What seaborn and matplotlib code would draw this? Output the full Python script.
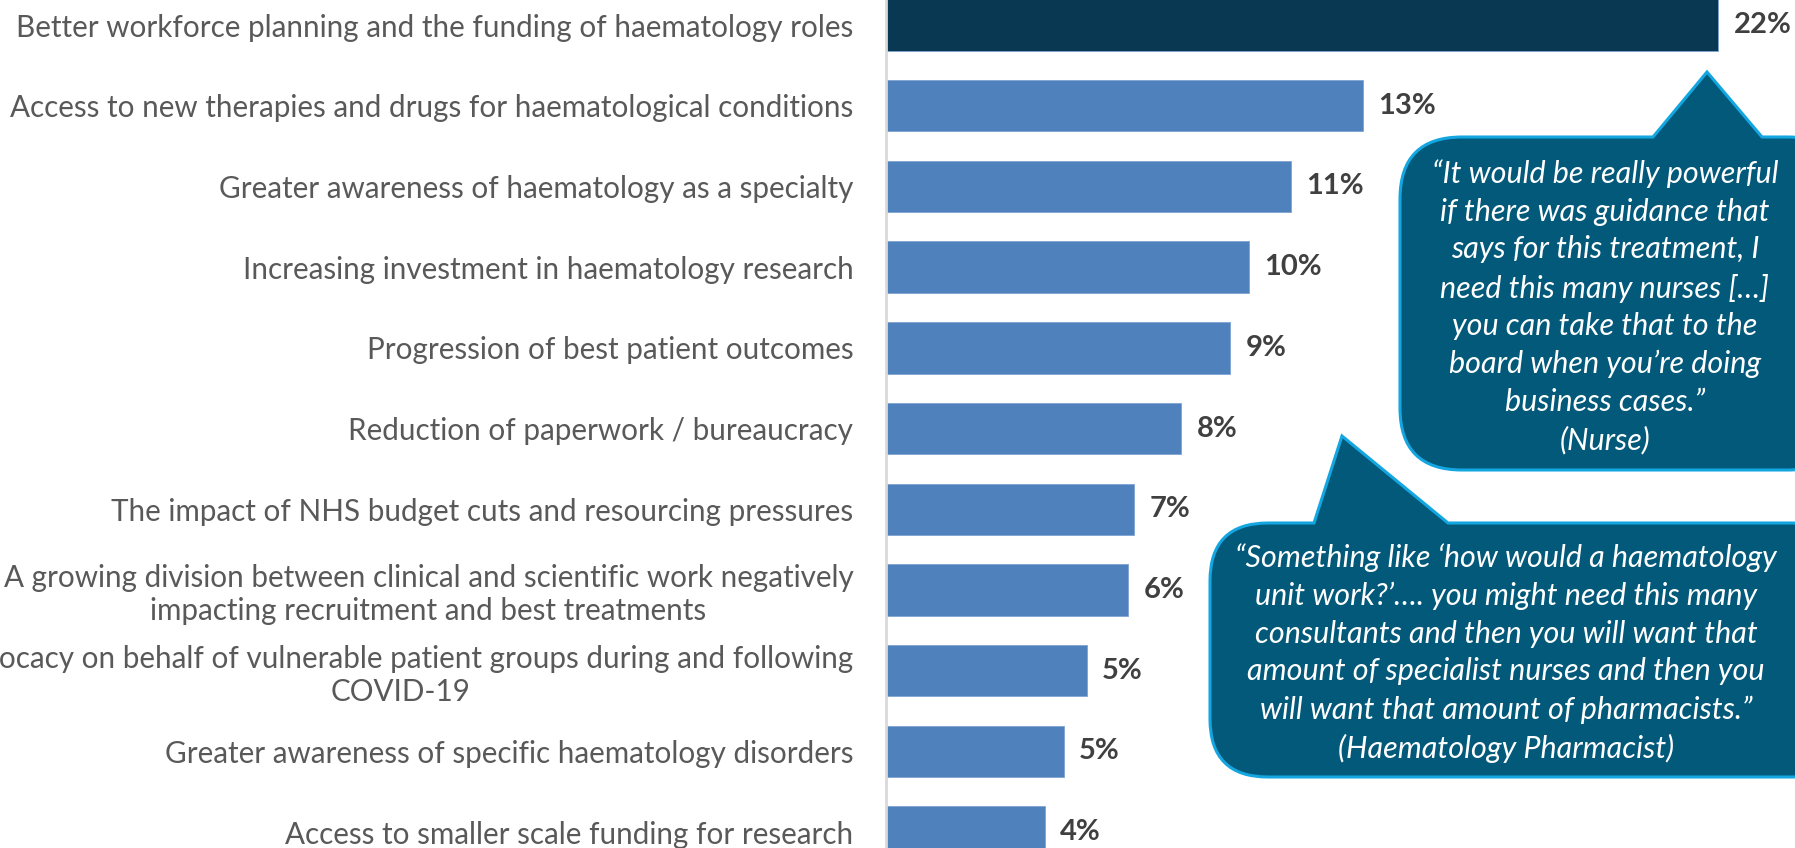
import matplotlib
matplotlib.use("Agg")
import matplotlib.pyplot as plt
from matplotlib.path import Path
from matplotlib.patches import PathPatch
import seaborn as sns
import pandas as pd

# Survey responses: share of respondents naming each priority (%)
categories = [
    "Better workforce planning and the funding of haematology roles",
    "Access to new therapies and drugs for haematological conditions",
    "Greater awareness of haematology as a specialty",
    "Increasing investment in haematology research",
    "Progression of best patient outcomes",
    "Reduction of paperwork / bureaucracy",
    "The impact of NHS budget cuts and resourcing pressures",
    "A growing division between clinical and scientific work negatively\nimpacting recruitment and best treatments",
    "Advocacy on behalf of vulnerable patient groups during and following\nCOVID-19",
    "Greater awareness of specific haematology disorders",
    "Access to smaller scale funding for research",
]
shares = [22.0, 12.6, 10.7, 9.6, 9.1, 7.8, 6.55, 6.4, 5.3, 4.7, 4.2]

nurse_quote = ("“It would be really powerful\nif there was guidance that\n"
               "says for this treatment, I\nneed this many nurses […]\n"
               "you can take that to the\nboard when you’re doing\n"
               "business cases.”\n(Nurse)")
pharmacist_quote = ("“Something like ‘how would a haematology\n"
                    "unit work?’…. you might need this many\n"
                    "consultants and then you will want that\n"
                    "amount of specialist nurses and then you\n"
                    "will want that amount of pharmacists.”\n"
                    "(Haematology Pharmacist)")

HIGHLIGHT = "#083852"
BAR = "#4f81bd"
CALLOUT_FILL = "#02597a"
CALLOUT_EDGE = "#13a6e0"

sns.set_theme(style="white")
plt.rcParams["font.family"] = ["Lato", "DejaVu Sans"]

df = pd.DataFrame({"category": categories, "share": shares})
palette = {c: (HIGHLIGHT if i == 0 else BAR) for i, c in enumerate(categories)}

W, H = 1795, 848
fig = plt.figure(figsize=(W / 100, H / 100), dpi=100)
ax = fig.add_axes([886 / W, 0, 1 - 886 / W, 1])

sns.barplot(data=df, x="share", y="category", hue="category", palette=palette,
            legend=False, orient="h", width=0.637, ax=ax,
            edgecolor="#7fa3d3", linewidth=0.6, saturation=1)

for container, v in zip(ax.containers, shares):
    ax.bar_label(container, labels=[f"{v:.0f}%"], padding=11,
                 fontsize=21, fontweight="bold", color="#404040")

ax.set_xlim(0, (W - 886) / 37.84)
ax.set_ylim(10.198, -0.31)
ax.set_xlabel("")
ax.set_ylabel("")
ax.set_xticks([])
ax.tick_params(axis="y", length=0, pad=23.5, labelsize=21.3, labelcolor="#595959")
for lbl in ax.get_yticklabels():
    lbl.set_multialignment("center")
    lbl.set_linespacing(1.22)
for side in ("top", "right", "bottom"):
    ax.spines[side].set_visible(False)
ax.spines["left"].set_color("#d9d9d9")
ax.spines["left"].set_linewidth(2)

# Overlay in pixel units for the speech-bubble quotes
ov = fig.add_axes([0, 0, 1, 1], zorder=5)
ov.set_xlim(0, W)
ov.set_ylim(H, 0)
ov.axis("off")


def bubble(x0, y0, x1, y1, r, base_l, base_r, apex):
    verts = [
        (x0 + r, y0), (base_l, y0), apex, (base_r, y0), (x1 - r, y0),
        (x1, y0), (x1, y0 + r),
        (x1, y1 - r),
        (x1, y1), (x1 - r, y1),
        (x0 + r, y1),
        (x0, y1), (x0, y1 - r),
        (x0, y0 + r),
        (x0, y0), (x0 + r, y0),
        (x0 + r, y0),
    ]
    codes = [Path.MOVETO, Path.LINETO, Path.LINETO, Path.LINETO, Path.LINETO,
             Path.CURVE3, Path.CURVE3,
             Path.LINETO,
             Path.CURVE3, Path.CURVE3,
             Path.LINETO,
             Path.CURVE3, Path.CURVE3,
             Path.LINETO,
             Path.CURVE3, Path.CURVE3,
             Path.CLOSEPOLY]
    ov.add_patch(PathPatch(Path(verts, codes), facecolor=CALLOUT_FILL,
                           edgecolor=CALLOUT_EDGE, linewidth=2.2,
                           joinstyle="miter"))


bubble(1400, 137, 1850, 470, 62, 1653, 1762, (1707, 72))
ov.text(1605, 307, nurse_quote, ha="center", va="center", color="white",
        fontsize=22, style="italic", linespacing=1.42)

bubble(1210, 523, 1850, 777, 58, 1314, 1448, (1342, 436))
ov.text(1506, 653, pharmacist_quote, ha="center", va="center", color="white",
        fontsize=22, style="italic", linespacing=1.42)

fig.savefig("out.png", dpi=100)
